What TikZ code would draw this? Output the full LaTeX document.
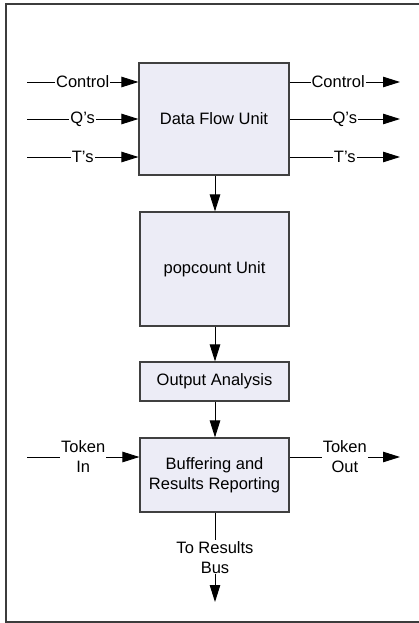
\documentclass[tikz,border=0pt]{standalone}
\usepackage{fontspec}
\setmainfont{Liberation Sans}
\usetikzlibrary{arrows.meta}
\definecolor{boxfill}{RGB}{236,236,246}
\definecolor{boxline}{RGB}{64,64,64}
\definecolor{frame}{RGB}{60,60,60}
\begin{document}
\begin{tikzpicture}[x=1pt,y=-1pt,
  font=\fontsize{16.5}{20}\selectfont,
  unit/.style={draw=boxline, line width=1.2pt, fill=boxfill, inner sep=0pt, align=center},
  conn/.style={draw=black, line width=0.9pt, -{Triangle[length=17pt,width=10.5pt]}},
  lbl/.style={fill=white, inner sep=1pt, align=center, pos=0.5}]
  \useasboundingbox (0,0) rectangle (418,623);
  % outer frame
  \draw[frame, line width=1.5pt] (6,4) rectangle (440,622);

  % processing units
  \node[unit, minimum width=150pt, minimum height=112pt] (dfu) at (214,119) {Data Flow Unit};
  \node[unit, minimum width=149pt, minimum height=114pt] (pop) at (214.5,269) {popcount Unit};
  \node[unit, minimum width=149pt, minimum height=39pt] (oa) at (214.5,381.5) {Output Analysis};
  \node[unit, minimum width=149pt, minimum height=74pt] (buf) at (214.5,475) {Buffering and\\Results Reporting};

  % free ends of the external signals
  \coordinate (inC) at (27,82);
  \coordinate (inQ) at (27,119);
  \coordinate (inT) at (27,157);
  \coordinate (outC) at (400,82);
  \coordinate (outQ) at (400,119);
  \coordinate (outT) at (400,157);
  \coordinate (tokIn) at (27,457);
  \coordinate (tokOut) at (400,457);
  \coordinate (bus) at (215,602);

  % inputs to the data flow unit
  \draw[conn] (inC) -- node[lbl]{Control} (dfu.west |- inC);
  \draw[conn] (inQ) -- node[lbl]{Q's} (dfu.west |- inQ);
  \draw[conn] (inT) -- node[lbl]{T's} (dfu.west |- inT);

  % outputs of the data flow unit
  \draw[conn] (dfu.east |- outC) -- node[lbl, pos=0.44]{Control} (outC);
  \draw[conn] (dfu.east |- outQ) -- node[lbl]{Q's} (outQ);
  \draw[conn] (dfu.east |- outT) -- node[lbl]{T's} (outT);

  % main pipeline
  \draw[conn] (dfu.south -| 215,0) -- (pop.north -| 215,0);
  \draw[conn] (pop.south -| 215,0) -- (oa.north -| 215,0);
  \draw[conn] (oa.south -| 215,0) -- (buf.north -| 215,0);

  % token ring and result bus
  \draw[conn] (tokIn) -- node[lbl]{Token\\In} (buf.west |- tokIn);
  \draw[conn] (buf.east |- tokOut) -- node[lbl]{Token\\Out} (tokOut);
  \draw[conn] (buf.south -| bus) -- node[lbl]{To Results\\Bus} (bus);
\end{tikzpicture}
\end{document}
